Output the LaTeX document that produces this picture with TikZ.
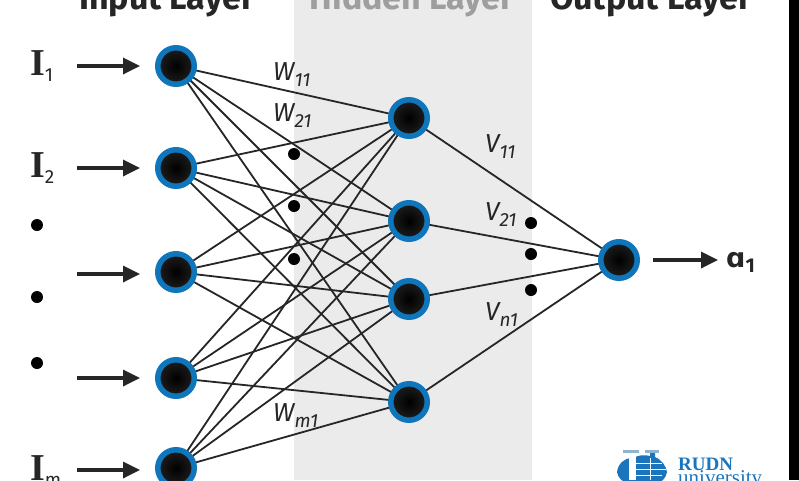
\documentclass[tikz,border=0pt]{standalone}
\usepackage{fontspec}
\setmainfont{Fira Sans}
\newfontfamily\serifI{Liberation Serif}
\newfontfamily\djv{DejaVu Sans}
\usetikzlibrary{arrows.meta}
\definecolor{ringblue}{HTML}{0F76BC}
\definecolor{ink}{HTML}{262626}
\definecolor{rudn}{HTML}{1B75BC}
\definecolor{capblue}{HTML}{8FB4CF}
\tikzset{
  neuron/.style={circle,draw=ringblue,line width=5.5pt,minimum size=36.5pt,inner sep=0pt,
    inner color=black,outer color=black!88!white,fill=black},
  edge/.style={draw=ink,line width=1.8pt},
  inarrow/.style={draw=ink,line width=3.4pt,-{Triangle[length=17pt,width=16pt]}},
  title/.style={font=\fontsize{34}{34}\selectfont\bfseries,text=ink,anchor=base},
  weight/.style={font=\fontsize{26}{26}\selectfont\itshape,text=ink,anchor=base west,inner sep=0pt},
  inlabel/.style={font=\fontsize{38}{38}\selectfont\serifI\bfseries,text=ink,anchor=base west,inner sep=0pt},
  blob/.style={circle,fill=black,inner sep=0pt,minimum size=12pt},
}
\newcommand{\subs}[1]{\raisebox{-6pt}{\fontsize{19}{19}\selectfont #1}}
\begin{document}
\begin{tikzpicture}[x=1pt,y=-1pt]
\useasboundingbox (0,0) rectangle (799,480);
\clip (0,0) rectangle (799,480);
\fill[white] (0,0) rectangle (799,480);
\fill[black!8] (294,0) rectangle (532,480);
\fill[black] (789,0) rectangle (799,480);
\node[title] (t1) at (167,9) {Input Layer};
\node[title,text=black!38] (t2) at (412,9) {Hidden Layer};
\node[title] (t3) at (651,9) {Output Layer};
\foreach \n/\y in {1/66,2/168,3/272,4/378,5/468} \coordinate (i\n) at (176,\y);
\foreach \n/\y in {1/118,2/221,3/299,4/402} \coordinate (h\n) at (409,\y);
\coordinate (o) at (619,260);
\foreach \a in {1,...,5} \foreach \b in {1,...,4} \draw[edge] (i\a) -- (h\b);
\foreach \b in {1,...,4} \draw[edge] (h\b) -- (o);
\foreach \n in {1,...,5} \node[neuron] (I\n) at (i\n) {};
\foreach \n in {1,...,4} \node[neuron] (H\n) at (h\n) {};
\node[neuron] (O) at (o) {};
% input arrows
\foreach \n/\y in {1/66,2/168,3/274,4/378,5/470} {
  \coordinate (as\n) at (77,\y);
  \coordinate (ae\n) at (140,\y);
  \draw[inarrow] (as\n) -- (ae\n);
}
\coordinate (os) at (653,260);
\coordinate (oe) at (718,260);
\draw[inarrow] (os) -- (oe);
% labels
\node[inlabel] (l1) at (30,75) {I\subs{\rmfamily\mdseries 1}};
\node[inlabel] (l2) at (30,177) {I\subs{\rmfamily\mdseries 2}};
\node[inlabel] (lm) at (30,480) {I\subs{\rmfamily\mdseries m}};
\node[font=\fontsize{27}{27}\selectfont\djv\bfseries,text=ink,anchor=base west,inner sep=0pt] (la) at (726,267) {ɑ\raisebox{-5pt}{\fontsize{20}{20}\selectfont\rmfamily 1}};
\node[weight] (w11) at (273,80) {W\subs{11}};
\node[weight] (w21) at (273,121) {W\subs{21}};
\node[weight] (wm1) at (273,421) {W\subs{m1}};
\node[weight] (v11) at (485,152) {V\subs{11}};
\node[weight] (v21) at (485,220) {V\subs{21}};
\node[weight] (vn1) at (485,320) {V\subs{n1}};
% dots
\foreach \x/\y [count=\k] in {294/154,294/206,294/259,531/223,531/254,531/290,37/225,37/297,37/363}
  \node[blob] (d\k) at (\x,\y) {};
% logo
\fill[rudn] (617,472) .. controls (618,464) and (624,458) .. (632,458)
  -- (638,456) .. controls (642,455) and (646,455) .. (650,456) -- (650,453) -- (655,453) -- (655,457)
  .. controls (662,460) and (666,466) .. (667,472)
  .. controls (666,478) and (662,482) .. (656,484) -- (630,484)
  .. controls (622,482) and (618,478) .. (617,472) -- cycle;
\fill[capblue] (623,450) rectangle (639,453);
\fill[capblue] (645,450) rectangle (659,453);
\fill[white] (629,453) rectangle (636,480);
\draw[white,line width=.8pt] (636,469) -- (666,469) (650,458) -- (650,480) (636,463) -- (662,463) (636,475) -- (662,475);
\node[font=\fontsize{19}{19}\selectfont\serifI\bfseries,text=rudn,anchor=base west,inner sep=0pt] (rudn1) at (678,470.5) {RUDN};
\node[font=\fontsize{21}{21}\selectfont\serifI,text=rudn,anchor=base west,inner sep=0pt] (rudn2) at (678,484) {university};
\end{tikzpicture}
\end{document}
